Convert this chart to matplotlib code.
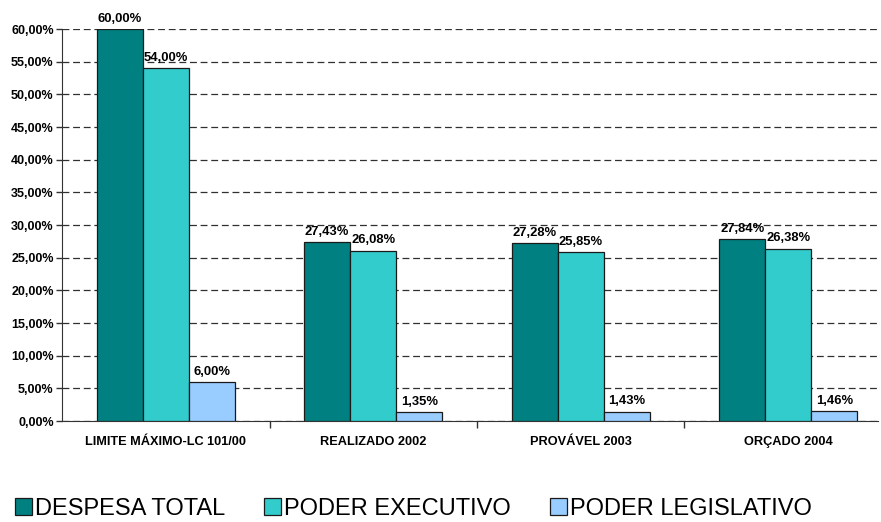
import matplotlib
matplotlib.use("Agg")
import matplotlib.pyplot as plt
import numpy as np

plt.rcParams['font.family'] = ['Liberation Sans', 'DejaVu Sans']

categories = ["LIMITE MÁXIMO-LC 101/00", "REALIZADO 2002", "PROVÁVEL 2003", "ORÇADO 2004"]
series_names = ["DESPESA TOTAL", "PODER EXECUTIVO", "PODER LEGISLATIVO"]
despesa_total = [60.00, 27.43, 27.28, 27.84]
poder_executivo = [54.00, 26.08, 25.85, 26.38]
poder_legislativo = [6.00, 1.35, 1.43, 1.46]
yticks = [0, 5, 10, 15, 20, 25, 30, 35, 40, 45, 50, 55, 60]

colors = ["#008080", "#33CCCC", "#99CCFF"]
series = [despesa_total, poder_executivo, poder_legislativo]

W, H = 881, 522
fig = plt.figure(figsize=(W / 100, H / 100), dpi=100)
ax = fig.add_axes([62 / W, (H - 421) / H, (878 - 62) / W, (421 - 29) / H])

x = np.arange(len(categories))
bw = 0.222
handles = []
for i, (vals, c, name) in enumerate(zip(series, colors, series_names)):
    pos = x + (i - 1) * bw
    bars = ax.bar(pos, vals, width=bw, color=c, edgecolor="#1a1a1a", linewidth=0.9,
                  label=name, zorder=3)
    handles.append(bars)
    for p, v in zip(pos, vals):
        s = f"{v:.2f}%".replace(".", ",")
        ax.annotate(s, (p, v), xytext=(0, 3), textcoords="offset points",
                    ha="center", va="bottom", fontsize=9.4, fontweight="bold",
                    zorder=4)

ax.set_ylim(0, 60)
ax.set_xlim(-0.5, 3.5 - 14 / 207.5)
ax.set_yticks(yticks)
ax.set_yticklabels([f"{t:.2f}%".replace(".", ",") for t in yticks],
                   fontsize=9, fontweight="bold")
ax.set_xticks([0.5, 1.5, 2.5])
ax.set_xticklabels([])
ax.tick_params(axis="x", direction="out", length=5, width=1, color="#333333")
ax.tick_params(axis="y", direction="out", length=4, width=1, color="#333333", pad=2)
for i, cat in enumerate(categories):
    ax.text(i, -3.2, cat, ha="center", va="center", fontsize=9.2, fontweight="bold",
            transform=ax.transData)

ax.yaxis.grid(True, color="#303030", linestyle=(0, (5.5, 3)), linewidth=0.9, zorder=0)
ax.set_axisbelow(True)
for s in ["top", "right"]:
    ax.spines[s].set_visible(False)
ax.spines["left"].set_color("#333333")
ax.spines["bottom"].set_color("#333333")

leg = fig.legend(handles=handles, labels=series_names, loc="center left",
                 bbox_to_anchor=(15 / W, (H - 509) / H), ncol=3, frameon=False,
                 fontsize=17, handlelength=0.7, handleheight=0.7,
                 handletextpad=0.15, columnspacing=1.65, borderpad=0,
                 borderaxespad=0)

fig.savefig("out.png", dpi=100)
